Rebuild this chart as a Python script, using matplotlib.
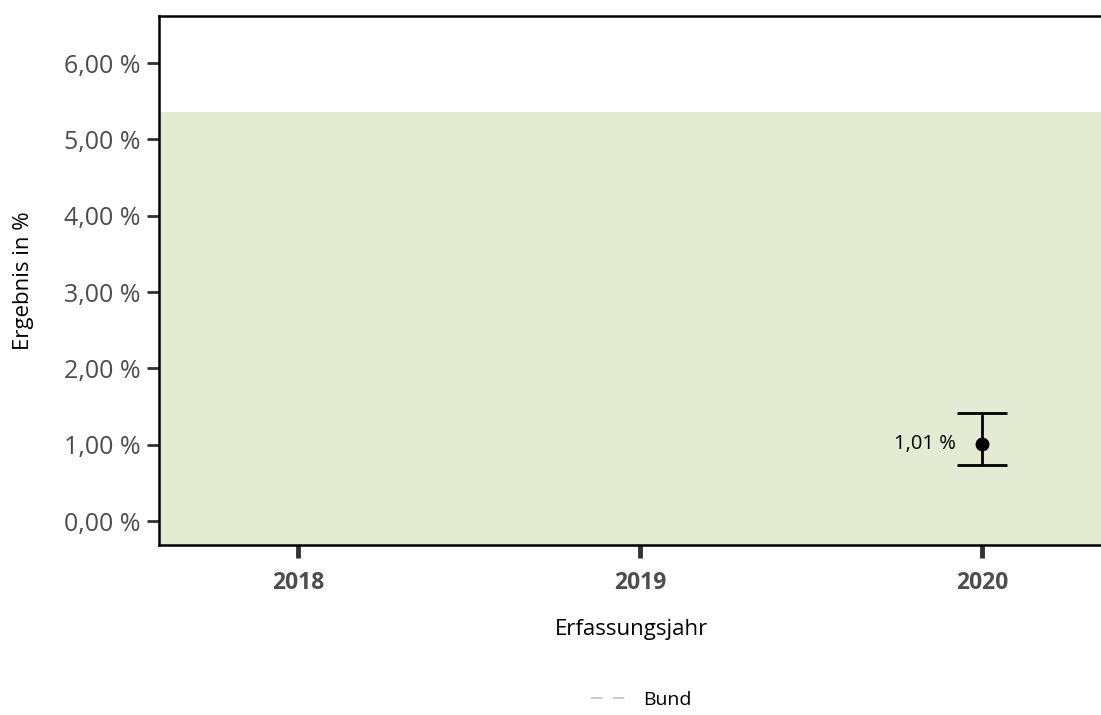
import matplotlib.pyplot as plt
from matplotlib.lines import Line2D

# data
years = [2018, 2019, 2020]
ref_upper = 5.36          # Referenzbereich (oben)
point_year = [2020]
point_value = [1.01]
ci_lower = [0.73]
ci_upper = [1.41]
yticks = [0, 1, 2, 3, 4, 5, 6]

plt.rcParams['font.family'] = ['Open Sans', 'DejaVu Sans']

fig = plt.figure(figsize=(11.01, 7.15), dpi=100)
ax = fig.add_axes([0.1444, 0.2378, 0.858, 0.7398])

ax.set_xlim(2017.593, 2020.355)
ax.set_ylim(-0.314, 6.616)

# reference band
ax.axhspan(-0.314, ref_upper, color='#e3ebd3', zorder=0, lw=0)

# point with confidence interval
err = [[v - lo for v, lo in zip(point_value, ci_lower)],
       [hi - v for v, hi in zip(point_value, ci_upper)]]
ax.errorbar(point_year, point_value, yerr=err, fmt='o', color='black',
            ms=9, elinewidth=2, capsize=18, capthick=2, zorder=3)
for x, v in zip(point_year, point_value):
    ax.annotate(f"{v:.2f} %".replace('.', ','), (x, v), xytext=(-19, 0),
                textcoords='offset points', ha='right', va='center',
                fontsize=14.5, color='black')

ax.set_xticks(years)
ax.set_xticklabels([str(y) for y in years], fontweight='bold', fontsize=16.5, color='#4d4d4d')
ax.set_yticks(yticks)
ax.set_yticklabels([f"{t:.2f} %".replace('.', ',') for t in yticks], fontsize=18, color='#4d4d4d')
ax.tick_params(axis='x', length=9, width=3.5, color='#333333', pad=10)
ax.tick_params(axis='y', length=9, width=2, color='#333333', pad=4)

ax.spines['right'].set_visible(False)
for s in ['left', 'bottom', 'top']:
    ax.spines[s].set_linewidth(1.8)
    ax.spines[s].set_color('black')

ax.set_xlabel('Erfassungsjahr', fontsize=16, labelpad=17)
ax.set_ylabel('Ergebnis in %', fontsize=16, labelpad=22)

handle = Line2D([], [], color='#cccccc', ls=(0, (5.5, 5)), lw=1.5)
fig.legend([handle], ['Bund'], loc='lower center', bbox_to_anchor=(0.5825, -0.016),
           frameon=False, fontsize=14, handlelength=1.9, handletextpad=0.8)

fig.savefig('out.png', dpi=100)
